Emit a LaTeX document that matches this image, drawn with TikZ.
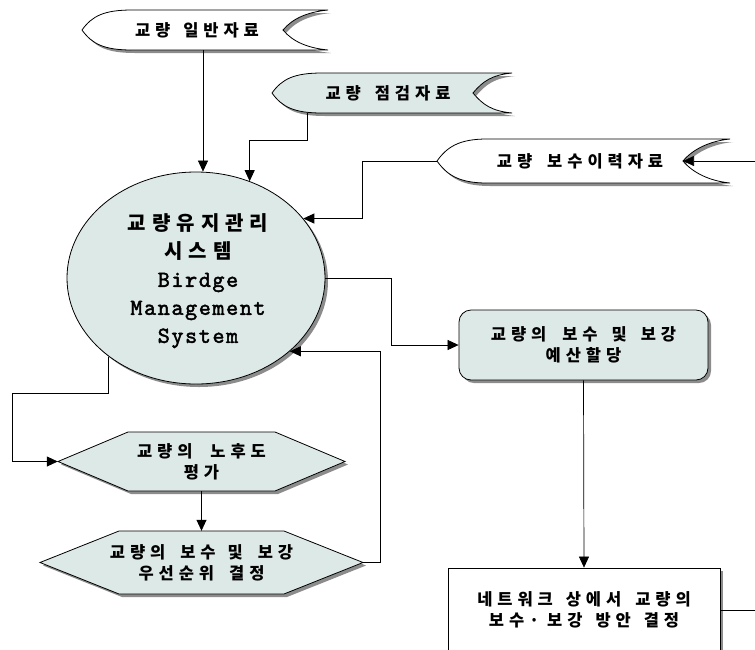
\documentclass[tikz,border=0pt]{standalone}
\usepackage{fontspec}
\usetikzlibrary{arrows.meta,shadows,shapes.geometric}
\newfontfamily\krfont{Noto Sans CJK KR}[LetterSpace=30]
\newfontfamily\latinmono{lmmono10-regular.otf}[LetterSpace=7, FakeBold=2]
\definecolor{paleteal}{RGB}{221,233,231}
\newcommand\wgap[1]{\hspace{#1pt}}

% data-source tape: pointed left end, concave notch on the right
% #1 tip x, #2 top y, #3 bottom y, #4 notch x, #5 end x, #6 fill
\newcommand\datatape[6]{%
  \path[edgeline, fill=#6, castshadow]
    (#1,{(#2+#3)/2}) .. controls (#1+10,{(#2+#3)/2-14}) and (#1+22,#2) .. (#1+50,#2)
    -- (#5,#2) .. controls (#5-20,#2+2) and (#4+10,{(#2+#3)/2-12}) .. (#4,{(#2+#3)/2})
    .. controls (#4+10,{(#2+#3)/2+12}) and (#5-20,#3-2) .. (#5,#3)
    -- (#1+50,#3) .. controls (#1+22,#3) and (#1+10,{(#2+#3)/2+14}) .. (#1,{(#2+#3)/2})
    -- cycle;}

% flat hexagon: #1 left x, #2 right x, #3 top y, #4 bottom y, #5 inset, #6 fill
\newcommand\hexplate[6]{%
  \path[edgeline, fill=#6, castshadow]
    (#1,{(#3+#4)/2}) -- (#1+#5,#3) -- (#2-#5,#3) -- (#2,{(#3+#4)/2})
    -- (#2-#5,#4) -- (#1+#5,#4) -- cycle;}

\begin{document}
\begin{tikzpicture}[x=1pt,y=-1pt,
  edgeline/.style={draw=black, line width=0.8pt},
  castshadow/.style={drop shadow={shadow xshift=3pt, shadow yshift=-3pt, fill=black, opacity=0.45}},
  lbl/.style={font=\krfont\bfseries\fontsize{16.5}{21}\selectfont, align=center, inner sep=0pt},
  link/.style={draw=black, line width=0.7pt, -{Triangle[length=11pt,width=10pt]}},
  wire/.style={draw=black, line width=0.7pt}]
\useasboundingbox[fill=white] (0,0) rectangle (755,649);

% data sources
\datatape{82}{10}{50}{283}{328}{white}
\node[lbl] (gen) at (197,30) {교량\wgap{13}일반자료};
\datatape{272}{73}{113}{473}{512}{paleteal}
\node[lbl] (insp) at (388,93) {교량\wgap{14}점검자료};
\datatape{437}{139}{183}{683}{730}{white}
\node[lbl] (rep) at (580,161) {교량\wgap{15}보수이력자료};

\coordinate (gen-out) at (203,50);
\coordinate (insp-out) at (307,113);
\coordinate (rep-tip) at (437,161);
\coordinate (rep-notch) at (683,161);
\coordinate (rep-feed) at (755,161);

% central system
\node[ellipse, edgeline, fill=paleteal, castshadow, minimum width=258pt, minimum height=212pt,
      inner sep=0pt] (bms) at (196,278) {};
\node[align=center, inner sep=0pt, font=\krfont\bfseries\fontsize{20}{28}\selectfont] (bms-text) at (198,281)
  {교량유지관리\\시스템\\{\latinmono\fontsize{23}{28}\selectfont Birdge}\\
   {\latinmono\fontsize{23}{28}\selectfont Management}\\
   {\latinmono\fontsize{23}{28}\selectfont System}};

% budget allocation
\node[lbl, rounded corners=12pt, edgeline, fill=paleteal, castshadow,
      minimum width=249pt, minimum height=70pt] (budget) at (583.5,345)
  {교량의\wgap{16}보수\wgap{14}및\wgap{14}보강\\예산할당};

% network-level decision
\node[lbl, edgeline, fill=white, castshadow, minimum width=272pt, minimum height=84pt] (plan) at (584,610)
  {네트워크\wgap{13}상에서\wgap{14}교량의\\보수·\wgap{8}보강\wgap{13}방안\wgap{13}결정};

% evaluation steps
\hexplate{58}{345}{432}{491}{70}{paleteal}
\node[lbl, minimum width=287pt, minimum height=59pt] (aging) at (201.5,461.5)
  {교량의\wgap{18}노후도\\평가};
\hexplate{40}{363}{531}{594}{79}{paleteal}
\node[lbl, minimum width=323pt, minimum height=63pt] (priority) at (201.5,562.5)
  {교량의\wgap{15}보수\wgap{12}및\wgap{15}보강\\우선순위\wgap{15}결정};

\coordinate (loop-l) at (12,393);
\coordinate (plan-feed) at (755,610);

% connectors
\draw[link] (gen-out) -- (gen-out |- bms.north);
\draw[link] (insp-out) -- ++(0,27) -| (bms.61.25);
\draw[link] (rep-feed) -- (rep-notch);
\draw[link] (rep-tip) -- ++(-75,0) |- (bms.29.44);
\draw[link] (bms.east) -- ++(66,0) |- (budget.west);
\draw[link] (budget.south) -- (plan.north);
\draw[wire] (plan.east) -- (plan-feed);
\draw[link] (bms.222.57) |- (loop-l) |- (aging.west);
\draw[link] (aging.south) -- (priority.north);
\draw[link] (priority.east) -- ++(17,0) |- (bms.-38.7);
\end{tikzpicture}
\end{document}
